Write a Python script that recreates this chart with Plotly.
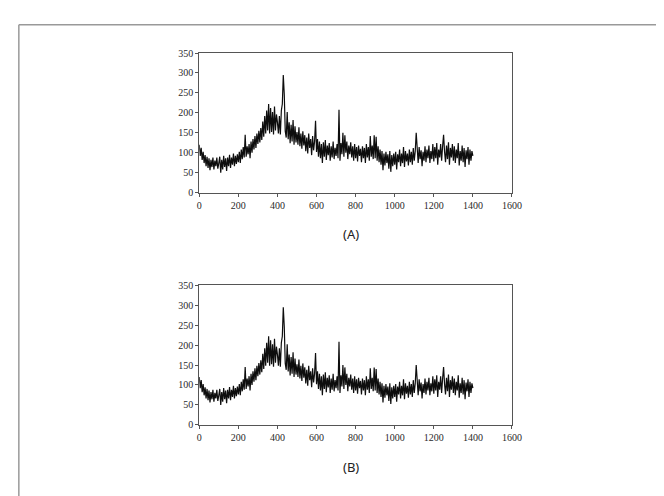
import plotly.graph_objects as go

# Raman-like shift axis (step 5) and intensities
shift = list(range(0, 1401, 5))

intensity_a = [
    # 0-95
    120, 92, 112, 82, 102, 74, 94, 66, 90, 62, 86, 56, 82, 64, 88, 58, 80, 66, 88, 60,
    # 100-195
    74, 90, 50, 82, 58, 92, 64, 86, 54, 88, 66, 95, 62, 88, 70, 98, 66, 92, 72, 96,
    # 200-295
    76, 102, 74, 108, 84, 114, 88, 145, 90, 116, 96, 122, 86, 128, 100, 134, 108, 142, 112, 148,
    # 300-395
    122, 155, 126, 162, 132, 178, 140, 192, 148, 206, 156, 222, 148, 212, 152, 202, 146, 216, 156, 196,
    # 400-495
    176, 148, 192, 146, 206, 222, 295, 246, 154, 138, 202, 134, 176, 124, 170, 128, 182, 120, 166, 126,
    # 500-595
    152, 120, 164, 116, 148, 110, 154, 118, 144, 104, 138, 98, 148, 112, 134, 94, 142, 106, 128, 180,
    # 600-695
    102, 134, 90, 128, 86, 122, 74, 126, 90, 132, 82, 118, 94, 124, 80, 116, 88, 128, 84, 112,
    # 700-795
    92, 122, 86, 208, 80, 124, 96, 150, 90, 144, 100, 128, 84, 118, 96, 126, 88, 116, 80, 122,
    # 800-895
    86, 114, 78, 118, 92, 110, 76, 116, 86, 112, 74, 122, 88, 114, 80, 142, 90, 118, 84, 144,
    # 900-995
    86, 140, 80, 116, 76, 108, 70, 104, 56, 98, 68, 102, 74, 96, 60, 104, 52, 94, 66, 98,
    # 1000-1095
    70, 102, 58, 96, 76, 108, 66, 98, 74, 114, 64, 104, 78, 98, 68, 108, 76, 102, 70, 112,
    # 1100-1195
    80, 104, 150, 98, 74, 114, 84, 106, 66, 102, 80, 116, 76, 108, 86, 118, 74, 104, 84, 122,
    # 1200-1295
    78, 114, 86, 124, 70, 108, 88, 122, 80, 116, 145, 102, 76, 118, 84, 126, 70, 112, 88, 122,
    # 1300-1400
    80, 116, 74, 108, 86, 124, 68, 104, 80, 118, 76, 112, 64, 106, 84, 114, 70, 108, 80, 104, 92,
]

intensity_b = list(intensity_a)

x_ticks = [0, 200, 400, 600, 800, 1000, 1200, 1400, 1600]
y_ticks = [0, 50, 100, 150, 200, 250, 300, 350]
panel_labels = ["(A)", "(B)"]

W, H = 664, 496


def px(x):
    return x / W


def py(y):
    return 1 - y / H


fig = go.Figure()
fig.add_trace(go.Scatter(x=shift, y=intensity_a, mode="lines",
                         line=dict(color="#0d0d0d", width=1.2), xaxis="x", yaxis="y",
                         showlegend=False))
fig.add_trace(go.Scatter(x=shift, y=intensity_b, mode="lines",
                         line=dict(color="#0d0d0d", width=1.2), xaxis="x2", yaxis="y2",
                         showlegend=False))

tickfont = dict(family="Liberation Serif, Times New Roman, serif", size=10, color="#2a2a2a")
common_x = dict(range=[0, 1600], tickvals=x_ticks, ticks="outside", ticklen=3,
                tickcolor="#555555", showline=True, linecolor="#555555", linewidth=1,
                mirror=True, showgrid=False, zeroline=False, tickfont=tickfont, fixedrange=True)
common_y = dict(range=[0, 350], tickvals=y_ticks, ticks="outside", ticklen=3,
                tickcolor="#555555", showline=True, linecolor="#555555", linewidth=1,
                mirror=True, showgrid=False, zeroline=False, tickfont=tickfont, fixedrange=True)

xa_dom = [px(192), px(511)]
fig.update_layout(
    width=W, height=H,
    margin=dict(l=0, r=0, t=0, b=0),
    paper_bgcolor="white", plot_bgcolor="white",
    xaxis=dict(domain=xa_dom, anchor="y", **common_x),
    yaxis=dict(domain=[py(183), py(40)], anchor="x", **common_y),
    xaxis2=dict(domain=xa_dom, anchor="y2", **common_x),
    yaxis2=dict(domain=[py(421), py(278)], anchor="x2", **common_y),
    showlegend=False,
)

for label, ypos in zip(panel_labels, [225, 464]):
    fig.add_annotation(text=label, x=px(347), y=py(ypos), xref="paper", yref="paper",
                       showarrow=False, xanchor="center", yanchor="middle",
                       font=dict(family="Noto Sans, Open Sans, sans-serif", size=13, color="#222222"))

# outer frame (top and left edges visible)
fig.add_shape(type="line", xref="paper", yref="paper", x0=px(8), x1=1.0, y0=py(11), y1=py(11),
              line=dict(color="#999999", width=1.5))
fig.add_shape(type="line", xref="paper", yref="paper", x0=px(8), x1=px(8), y0=py(11), y1=0.0,
              line=dict(color="#999999", width=1.5))

fig.write_html("out.html")
